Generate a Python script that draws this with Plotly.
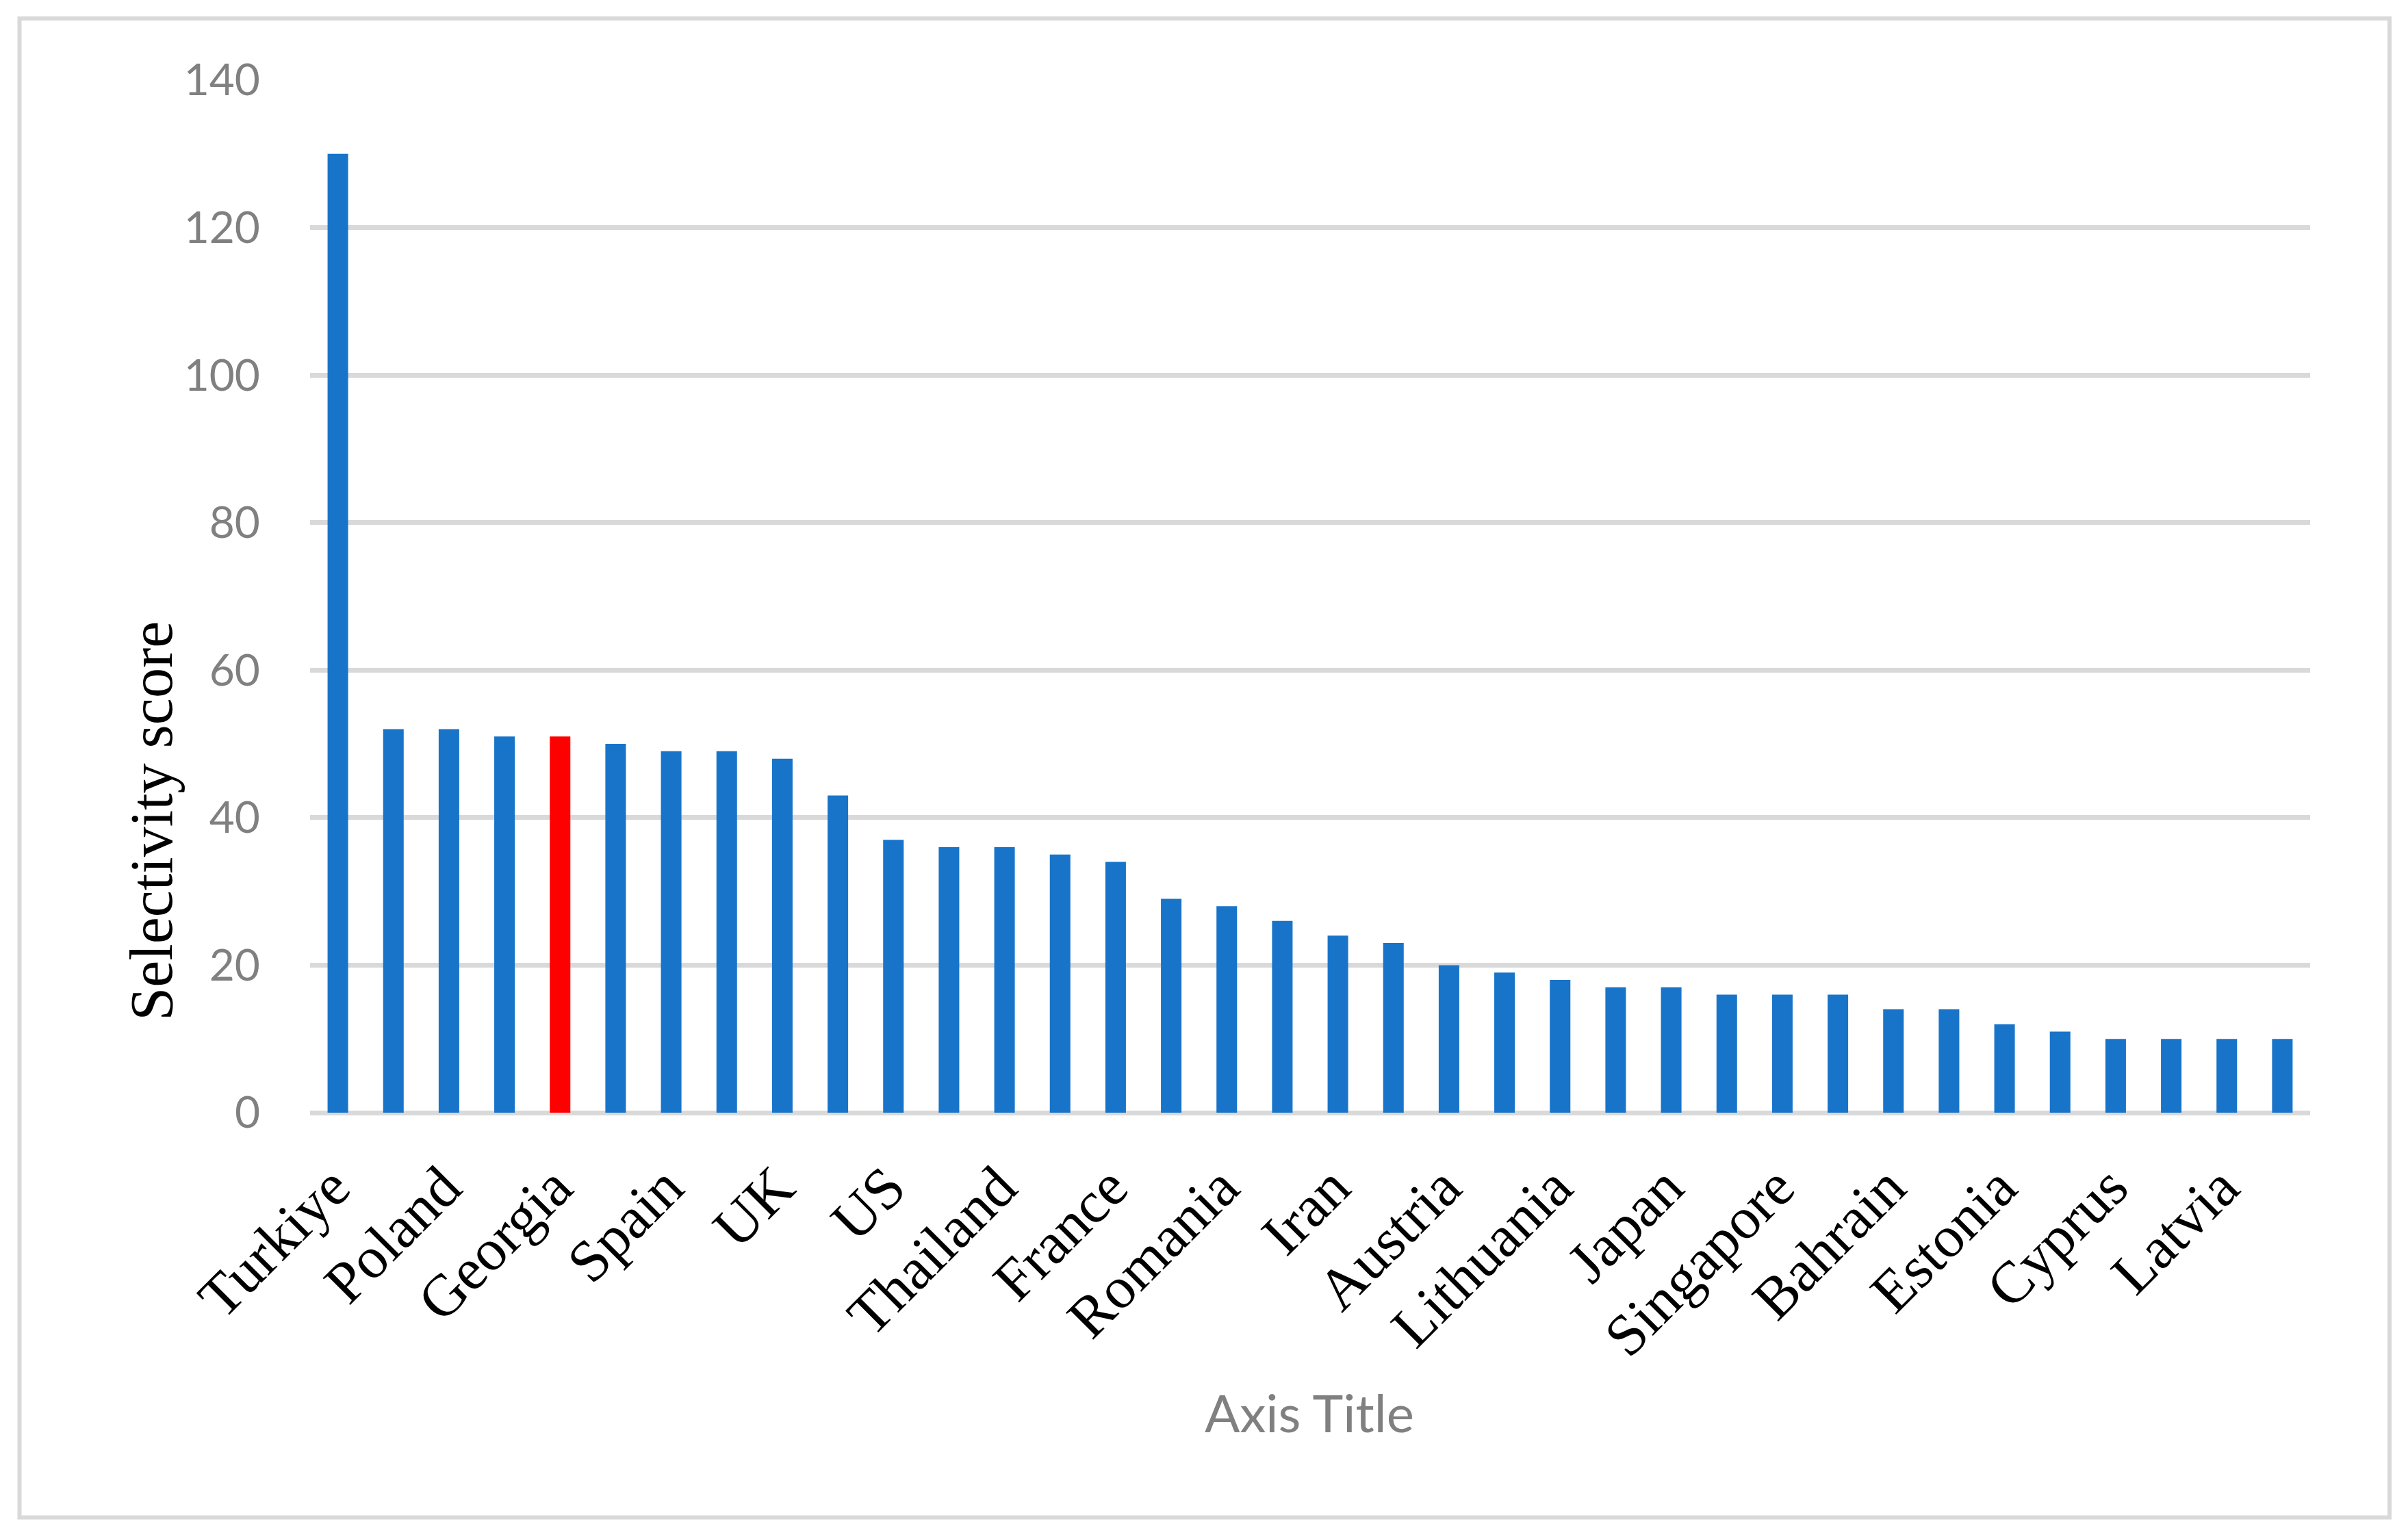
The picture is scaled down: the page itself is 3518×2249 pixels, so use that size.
import plotly.graph_objects as go

# Data
values = [130, 52, 52, 51, 51, 50, 49, 49, 48, 43, 37, 36, 36, 35, 34, 29, 28, 26,
          24, 23, 20, 19, 18, 17, 17, 16, 16, 16, 14, 14, 12, 11, 10, 10, 10, 10]
positions = list(range(len(values)))
highlight_index = 4  # Georgia
tick_positions = list(range(0, 36, 2))
tick_labels = ["Turkiye", "Poland", "Georgia", "Spain", "UK", "US", "Thailand", "France",
               "Romania", "Iran", "Austria", "Lithuania", "Japan", "Singapore", "Bahrain",
               "Estonia", "Cyprus", "Latvia"]
y_ticks = [0, 20, 40, 60, 80, 100, 120, 140]

BLUE = "#1874C9"
RED = "#FF0000"
GRID = "#D9D9D9"
GRAY = "#808080"

colors = [RED if i == highlight_index else BLUE for i in positions]

fig = go.Figure(go.Bar(x=positions, y=values, marker=dict(color=colors, line=dict(width=0)),
                       showlegend=False))

W, H = 3518, 2249
L, R, T, B = 453, 143, 116.5, 622.5

fig.update_layout(
    width=W, height=H,
    margin=dict(l=L, r=R, t=T, b=B, autoexpand=False),
    paper_bgcolor="white", plot_bgcolor="white",
    bargap=0.63,
    showlegend=False,
)

fig.update_xaxes(
    range=[-0.5, 35.5],
    tickmode="array", tickvals=tick_positions, ticktext=tick_labels,
    tickangle=-45,
    tickfont=dict(family="Liberation Serif", size=86, color="black"),
    showgrid=False, showline=False, zeroline=False, ticks="",
    ticklabelstandoff=40,
    ticklabelshift=-8,
    automargin=False,
)
fig.update_yaxes(
    range=[0, 140],
    tickmode="array", tickvals=y_ticks,
    tickfont=dict(family="Lato", size=64, color=GRAY),
    showgrid=True, gridcolor=GRID, gridwidth=7,
    zeroline=True, zerolinecolor=GRID, zerolinewidth=7,
    showline=False, ticks="",
    ticklabelstandoff=72,
    automargin=False,
)

plot_w = W - L - R
plot_h = H - T - B

def px_to_paper_x(px):
    return (px - L) / plot_w

def px_to_paper_y(py):
    return (H - B - py) / plot_h

# Y axis title (positioned lower than centre, as in reference)
fig.add_annotation(
    text="Selectivity score", textangle=-90,
    x=px_to_paper_x(222), y=px_to_paper_y(1200), xref="paper", yref="paper",
    xanchor="center", yanchor="middle", showarrow=False,
    font=dict(family="Liberation Serif", size=88, color="black"),
)
# X axis title
fig.add_annotation(
    text="Axis Title",
    x=px_to_paper_x(1913), y=px_to_paper_y(2064), xref="paper", yref="paper",
    xanchor="center", yanchor="middle", showarrow=False,
    font=dict(family="Lato", size=76, color=GRAY),
)

# Chart border
fig.add_shape(
    type="rect", xref="paper", yref="paper",
    x0=px_to_paper_x(28.5), x1=px_to_paper_x(3491),
    y0=px_to_paper_y(2218.5), y1=px_to_paper_y(26.5),
    line=dict(color=GRID, width=6), fillcolor="rgba(0,0,0,0)", layer="below",
)

fig.write_html(
    "out.html",
    config={"displayModeBar": False},
    post_script="document.body.style.margin='0px';document.body.style.overflow='hidden';",
)
